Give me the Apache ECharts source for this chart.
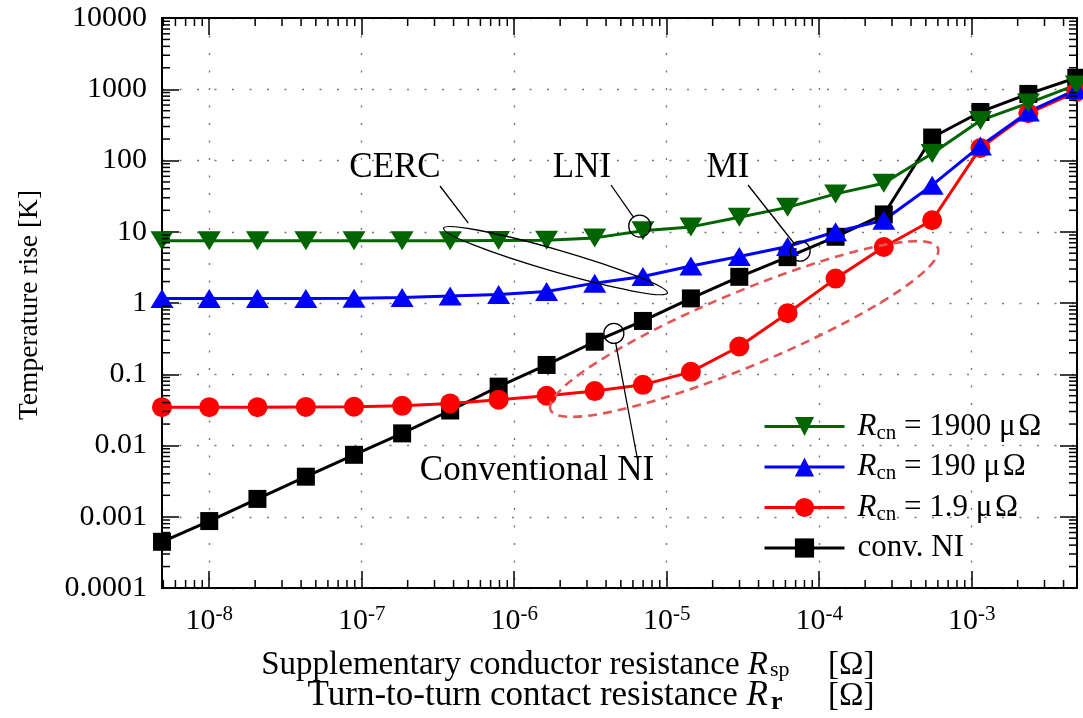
<!DOCTYPE html>
<html>
<head>
<meta charset="utf-8">
<script src="https://cdn.jsdelivr.net/npm/echarts@6/dist/echarts.min.js"></script>
<style>
html,body{margin:0;padding:0;background:#fff;}
#c{width:1083px;height:718px;}
</style>
</head>
<body>
<div id="c"></div>
<script>
// ---------------- data ----------------
const xValues = [4.9e-9, 1.0e-8, 2.07e-8, 4.3e-8, 8.9e-8, 1.84e-7, 3.8e-7, 7.9e-7, 1.63e-6, 3.37e-6,
                 6.98e-6, 1.44e-5, 2.99e-5, 6.2e-5, 1.28e-4, 2.65e-4, 5.5e-4, 1.14e-3, 2.35e-3, 4.85e-3];
const rcn1900 = [7.5, 7.5, 7.5, 7.5, 7.5, 7.5, 7.5, 7.55, 7.6, 8.2, 10.3, 11.7, 16, 22, 34, 48, 125, 365, 640, 1150];
const rcn190  = [1.16, 1.16, 1.16, 1.16, 1.17, 1.19, 1.25, 1.32, 1.45, 1.9, 2.35, 3.3, 4.5, 6.2, 10, 14.5, 45, 160, 480, 990];
const rcn1_9  = [0.0345, 0.0345, 0.0345, 0.0348, 0.035, 0.036, 0.039, 0.044, 0.05, 0.058, 0.071, 0.108, 0.245, 0.72, 2.2, 6.1, 14.5, 150, 460, 920];
const convNI  = [4.45e-4, 8.7e-4, 1.78e-3, 3.65e-3, 7.4e-3, 0.0148, 0.031, 0.067, 0.135, 0.286, 0.56, 1.16, 2.33, 4.4, 8.5, 17.5, 210, 480, 860, 1450];

const seriesNames = ['Rcn = 1900 μΩ', 'Rcn = 190 μΩ', 'Rcn = 1.9 μΩ', 'conv. NI'];
const legendLabels = [
  '{g|}{i|R}{s|cn}{n| = 1900 μ\u200AΩ}',
  '{g|}{i|R}{s|cn}{n| = 190 μ\u200AΩ}',
  '{g|}{i|R}{s|cn}{n| = 1.9 μ\u200AΩ}',
  '{g|}{n|conv. NI}'
];
const yTickLabels = ['0.0001', '0.001', '0.01', '0.1', '1', '10', '100', '1000', '10000'];
const xMin = 4.9e-9, xMax = 4.9e-3, yMin = 1e-4, yMax = 1e4;

// annotation anchors (data coordinates)
const cercEllipse = {from: [3.44e-7, 11.2], to: [1.01e-5, 1.38], ry: 11};
const redEllipse  = {from: [1.73e-6, 0.0315], to: [6.0e-4, 5.9], ry: 37};
const lniCircle = [6.65e-6, 12.0];
const miCircle = [7.5e-5, 5.35];
const convCircle = [4.5e-6, 0.3745];
const cercLeadEnd = [5.0e-7, 13.2];
const minorMultipliers = [2, 3, 4, 5, 6, 7, 8, 9];

// ---------------- chart ----------------
const FONT = '"Liberation Serif","Times New Roman",serif';
const chart = echarts.init(document.getElementById('c'));

const pairs = ys => xValues.map((x, i) => [x, ys[i]]);

const gridLine = {show: true, lineStyle: {color: '#777', width: 1.4, type: [2, 15.5]}};
const axisLine = {show: true, onZero: false, lineStyle: {color: '#000', width: 2}};
const majorTick = {show: true, inside: true, length: 17, lineStyle: {color: '#000', width: 1.5}};

function lineSeries(name, ys, color, symbol, size) {
  return {
    name: name, type: 'line', data: pairs(ys), clip: false,
    symbol: symbol, symbolSize: size,
    lineStyle: {color: color, width: 3},
    itemStyle: {color: color},
    emphasis: {disabled: true},
    animation: false
  };
}

const option = {
  animation: false,
  backgroundColor: '#fff',
  grid: {left: 162, right: 6, top: 18, bottom: 130},
  xAxis: [
    {
      type: 'log', logBase: 10, min: xMin, max: xMax, splitNumber: 6, position: 'bottom',
      axisLine: axisLine, axisTick: majorTick, splitLine: gridLine, minorTick: {show: false},
      axisLabel: {
        show: true, margin: 16, showMinLabel: false, showMaxLabel: false,
        formatter: v => '{b|10}{s|' + Math.round(Math.log10(v)) + '}',
        rich: {
          b: {fontFamily: FONT, fontSize: 30, color: '#000', lineHeight: 34},
          s: {fontFamily: FONT, fontSize: 21, color: '#000', verticalAlign: 'top', lineHeight: 21}
        }
      }
    },
    {
      type: 'log', logBase: 10, min: xMin, max: xMax, splitNumber: 6, position: 'top',
      axisLine: axisLine, axisTick: majorTick, splitLine: {show: false},
      axisLabel: {show: false}
    }
  ],
  yAxis: [
    {
      type: 'log', logBase: 10, min: yMin, max: yMax, splitNumber: 8, position: 'left',
      axisLine: axisLine, axisTick: majorTick, splitLine: gridLine,
      axisLabel: {
        show: true, margin: 15, color: '#000', fontFamily: FONT, fontSize: 30,
        formatter: v => yTickLabels[Math.round(Math.log10(v)) + 4]
      }
    },
    {
      type: 'log', logBase: 10, min: yMin, max: yMax, splitNumber: 8, position: 'right',
      axisLine: axisLine, axisTick: majorTick, splitLine: {show: false},
      axisLabel: {show: false}
    }
  ],
  legend: {
    show: true, orient: 'vertical', left: 758, top: 406,
    data: seriesNames, selectedMode: false,
    itemWidth: 80, itemHeight: 24, itemGap: 8,
    lineStyle: {width: 3},
    formatter: name => legendLabels[seriesNames.indexOf(name)],
    textStyle: {
      fontFamily: FONT, fontSize: 31, color: '#000', lineHeight: 28,
      rich: {
        g: {width: 8},
        i: {fontFamily: FONT, fontSize: 31, fontStyle: 'italic', color: '#000', lineHeight: 28},
        s: {fontFamily: FONT, fontSize: 21, color: '#000', padding: [13, 0, 0, 0]},
        n: {fontFamily: FONT, fontSize: 31, color: '#000', lineHeight: 28}
      }
    }
  },
  series: [
    lineSeries(seriesNames[3], convNI, '#000000', 'rect', 18),
    lineSeries(seriesNames[2], rcn1_9, '#ff0000', 'circle', 20),
    lineSeries(seriesNames[1], rcn190, '#0000ff', 'triangle', [23, 19]),
    lineSeries(seriesNames[0], rcn1900, '#006400', 'path://M0,0L2,0L1,1.65Z', [23, 19])
  ]
};
chart.setOption(option);

// ---------------- decorations: minor ticks, titles & annotations ----------------
const toPx = v => chart.convertToPixel({xAxisIndex: 0, yAxisIndex: 0}, v);
const [L, B] = toPx([xMin, yMin]);
const [R, T] = toPx([xMax, yMax]);
const els = [];
const tickStyle = {stroke: '#000', lineWidth: 1.5};

function decadeValues(lo, hi) {
  const out = [];
  for (let e = Math.floor(Math.log10(lo)); e <= Math.ceil(Math.log10(hi)); e++) {
    minorMultipliers.forEach(k => {
      const v = k * Math.pow(10, e);
      if (v > lo && v < hi) out.push(v);
    });
  }
  return out;
}
decadeValues(xMin, xMax).forEach(v => {
  const X = toPx([v, yMin])[0];
  els.push({type: 'line', silent: true, z: 5, shape: {x1: X, y1: B, x2: X, y2: B - 8}, style: tickStyle});
  els.push({type: 'line', silent: true, z: 5, shape: {x1: X, y1: T, x2: X, y2: T + 8}, style: tickStyle});
});
decadeValues(yMin, yMax).forEach(v => {
  const Y = toPx([xMin, v])[1];
  els.push({type: 'line', silent: true, z: 5, shape: {x1: L, y1: Y, x2: L + 8, y2: Y}, style: tickStyle});
  els.push({type: 'line', silent: true, z: 5, shape: {x1: R, y1: Y, x2: R - 8, y2: Y}, style: tickStyle});
});

function ellipseFrom(spec, style) {
  const a = toPx(spec.from), b = toPx(spec.to);
  const cx = (a[0] + b[0]) / 2, cy = (a[1] + b[1]) / 2;
  const rx = Math.hypot(b[0] - a[0], b[1] - a[1]) / 2;
  const ang = Math.atan2(b[1] - a[1], b[0] - a[0]);
  return {type: 'ellipse', silent: true, z: 20, x: cx, y: cy, rotation: -ang,
          shape: {cx: 0, cy: 0, rx: rx, ry: spec.ry}, style: Object.assign({fill: 'none'}, style)};
}
els.push(ellipseFrom(cercEllipse, {stroke: '#000', lineWidth: 1.3}));
els.push(ellipseFrom(redEllipse, {stroke: '#e05555', lineWidth: 2.6, lineDash: [9, 6]}));

function circleWithLead(c, r, tx, ty) {
  const p = toPx(c);
  const d = Math.hypot(tx - p[0], ty - p[1]);
  els.push({type: 'circle', silent: true, z: 20, shape: {cx: p[0], cy: p[1], r: r},
            style: {fill: 'none', stroke: '#000', lineWidth: 1.3}});
  els.push({type: 'line', silent: true, z: 20,
            shape: {x1: tx, y1: ty, x2: p[0] + (tx - p[0]) * r / d, y2: p[1] + (ty - p[1]) * r / d},
            style: {stroke: '#000', lineWidth: 1.3}});
}
circleWithLead(lniCircle, 11, 611, 185);
circleWithLead(miCircle, 10, 748, 185);
circleWithLead(convCircle, 10, 638, 462);
const ce = toPx(cercLeadEnd);
els.push({type: 'line', silent: true, z: 20, shape: {x1: 440, y1: 186, x2: ce[0], y2: ce[1]},
          style: {stroke: '#000', lineWidth: 1.3}});

function label(text, x, y, size, align, rich, extra) {
  els.push(Object.assign({type: 'text', silent: true, z: 30, x: x, y: y,
            style: Object.assign({text: text, fontFamily: FONT, fontSize: size, fill: '#000',
                    align: align || 'center', textAlign: align || 'center', verticalAlign: 'middle', rich: rich},
                    (extra && extra.style) || {})}, (extra && extra.el) || {}));
}
label('CERC', 395, 168, 35);
label('LNI', 582, 168, 35);
label('MI', 728, 168, 35);
label('Conventional NI', 537, 471, 35);

// y axis title (rotated)
label('Temperature rise [K]', 30, 305, 27.5, 'center', null, {el: {rotation: Math.PI / 2}});

// x axis titles (two lines)
const italic33 = {i: {fontFamily: FONT, fontSize: 33, fontStyle: 'italic', fill: '#000'}};
const italic35 = {i: {fontFamily: FONT, fontSize: 35, fontStyle: 'italic', fill: '#000'}};
label('Supplementary conductor resistance {i|R}', 768, 665, 33, 'right', italic33);
label('sp', 770, 670, 22, 'left');
label('[Ω]', 828, 665, 33, 'left');
label('Turn-to-turn contact resistance {i|R}', 768, 696, 35, 'right', italic35);
label('r', 771, 702, 26, 'left', null, {style: {fontWeight: 'bold'}});
label('[Ω]', 828, 696, 33, 'left');

chart.setOption({graphic: {elements: els}});
</script>
</body>
</html>
